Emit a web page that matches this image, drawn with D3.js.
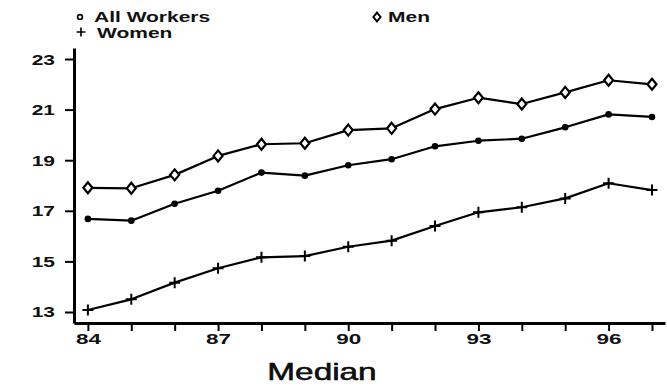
<!DOCTYPE html>
<html>
<head>
<meta charset="utf-8">
<script src="https://cdn.jsdelivr.net/npm/d3@7"></script>
<style>
  html, body { margin: 0; padding: 0; background: #fff; }
  svg { display: block; }
  text { font-family: "Liberation Sans", Arial, Helvetica, sans-serif; fill: #111; }
</style>
</head>
<body>
<svg id="chart" width="667" height="388"></svg>
<script>
// Median hourly wage by year (19xx)
const years = [84, 85, 86, 87, 88, 89, 90, 91, 92, 93, 94, 95, 96, 97];
const allWorkers = [16.68, 16.61, 17.28, 17.79, 18.51, 18.39, 18.80, 19.04, 19.55, 19.77, 19.85, 20.30, 20.81, 20.71];
const men        = [17.91, 17.89, 18.42, 19.17, 19.63, 19.67, 20.19, 20.26, 21.02, 21.47, 21.22, 21.68, 22.16, 22.00];
const women      = [13.08, 13.50, 14.16, 14.73, 15.16, 15.21, 15.58, 15.82, 16.40, 16.94, 17.14, 17.49, 18.09, 17.82];
const yTicks = [13, 15, 17, 19, 21, 23];
const xTickLabels = [84, 87, 90, 93, 96];
const xTitle = "Median";

const ink = "#000";
const sx = 1.5; // wide lettering

const svg = d3.select("#chart");

// Scales span the full axis rules, a little past the first/last ticks
const x = d3.scaleLinear().domain([83.68, 97.3]).range([74, 665]);
const y = d3.scaleLinear().domain([12.565, 23.435]).range([323, 48]);

// Y axis
const yAxis = d3.axisLeft(y).tickValues(yTicks).tickSize(9).tickSizeOuter(0).tickFormat("");
const gy = svg.append("g").attr("transform", "translate(74,0)").call(yAxis);
gy.select(".domain").attr("stroke", ink).attr("stroke-width", 3);
gy.selectAll(".tick line").attr("stroke", ink).attr("stroke-width", 2);
gy.selectAll(".tick").append("g")
  .attr("transform", "translate(-19,5) scale(" + sx + ",1)")
  .append("text")
  .attr("text-anchor", "end")
  .style("font-size", "14px").style("font-weight", "bold")
  .text(d => d);

// X axis
const xAxis = d3.axisBottom(x).tickValues(years).tickSize(8).tickSizeOuter(0).tickFormat("");
const gx = svg.append("g").attr("transform", "translate(0,323)").call(xAxis);
gx.select(".domain").attr("stroke", ink).attr("stroke-width", 3);
gx.selectAll(".tick line").attr("stroke", ink).attr("stroke-width", 2);
gx.selectAll(".tick").filter(d => xTickLabels.includes(d)).append("g")
  .attr("transform", "translate(0,21) scale(" + sx + ",1)")
  .append("text")
  .attr("text-anchor", "middle")
  .style("font-size", "15px").style("font-weight", "bold")
  .text(d => d);

// X title
svg.append("g").attr("transform", "translate(322,380) scale(1.45,1)")
  .append("text").attr("text-anchor", "middle")
  .style("font-size", "23px")
  .style("stroke", ink).style("stroke-width", 0.5)
  .text(xTitle);

// Series lines
const line = d3.line().x((d, i) => x(years[i])).y(d => y(d));
[men, allWorkers, women].forEach(s => {
  svg.append("path").datum(s).attr("d", line)
    .attr("fill", "none").attr("stroke", ink).attr("stroke-width", 2.2)
    .attr("stroke-linejoin", "round");
});

// Markers
const diamond = "M0,-5.5 L4.5,0 L0,5.5 L-4.5,0 Z";
const plus = "M-5.5,0 H5.5 M0,-5.5 V5.5";

svg.append("g").selectAll("circle").data(allWorkers).join("circle")
  .attr("cx", (d, i) => x(years[i])).attr("cy", d => y(d)).attr("r", 3.3)
  .attr("fill", ink);

svg.append("g").selectAll("path").data(men).join("path")
  .attr("transform", (d, i) => `translate(${x(years[i])},${y(d)})`)
  .attr("d", diamond).attr("fill", "#fff").attr("stroke", ink).attr("stroke-width", 2.2);

svg.append("g").selectAll("path").data(women).join("path")
  .attr("transform", (d, i) => `translate(${x(years[i])},${y(d)})`)
  .attr("d", plus).attr("fill", "none").attr("stroke", ink).attr("stroke-width", 2);

// Legend
const legend = [
  { name: "All Workers", mx: 80, my: 17, tx: 94, ty: 22, kind: "dot" },
  { name: "Men", mx: 377, my: 17, tx: 388, ty: 22, kind: "diamond" },
  { name: "Women", mx: 81, my: 32, tx: 97, ty: 38, kind: "plus" }
];
legend.forEach(l => {
  if (l.kind === "dot") {
    svg.append("circle").attr("cx", l.mx).attr("cy", l.my).attr("r", 2.4)
      .attr("fill", "#fff").attr("stroke", ink).attr("stroke-width", 1.6);
  } else if (l.kind === "diamond") {
    svg.append("path").attr("transform", `translate(${l.mx},${l.my}) scale(0.8)`)
      .attr("d", diamond).attr("fill", "#fff").attr("stroke", ink).attr("stroke-width", 2.4);
  } else {
    svg.append("path").attr("transform", `translate(${l.mx},${l.my}) scale(0.8)`)
      .attr("d", plus).attr("fill", "none").attr("stroke", ink).attr("stroke-width", 2);
  }
  svg.append("g").attr("transform", `translate(${l.tx},${l.ty}) scale(${sx},1)`)
    .append("text").style("font-size", "14px").style("font-weight", "bold").text(l.name);
});
</script>
</body>
</html>
